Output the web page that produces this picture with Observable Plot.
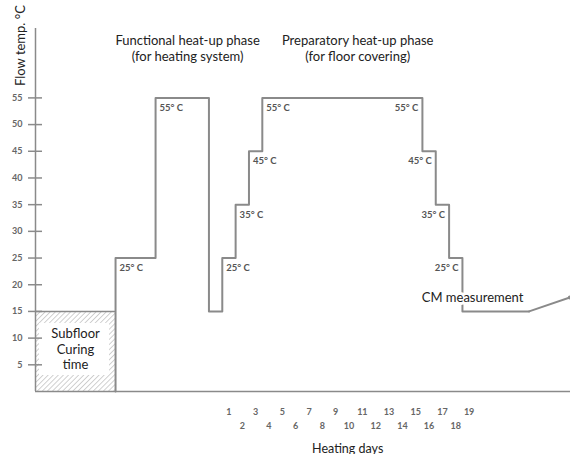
<!DOCTYPE html>
<html><head><meta charset="utf-8">
<script src="https://cdn.jsdelivr.net/npm/d3@7"></script>
<script src="https://cdn.jsdelivr.net/npm/@observablehq/plot@0.6"></script>
<style>body{margin:0;background:#fff}</style>
</head><body><div id="chart"></div>
<script>
// ---- data ----
const yTicks = [5, 10, 15, 20, 25, 30, 35, 40, 45, 50, 55];
const days = [1,2,3,4,5,6,7,8,9,10,11,12,13,14,15,16,17,18,19];
// temperature profile: day at which each level starts and the level (°C)
const stepStart = [-7.5, -4.5, -0.5, 0.5, 1.5, 2.5, 3.5, 15.5, 16.5, 17.5, 18.5, 23.5];
const stepTemp  = [25, 55, 15, 25, 35, 45, 55, 45, 35, 25, 15, 15];
const rampDays  = [23.5, 26.55];
const rampTemps = [15, 17.6];
const curingDays = [-13.5, -7.5];
const curingTemp = 15;
const leftLabelDays  = [-7.5, -4.5, 0.5, 1.5, 2.5, 3.5];
const leftLabelTemps = [25, 55, 25, 35, 45, 55];
const rightLabelDays  = [15.5, 16.5, 17.5, 18.5];
const rightLabelTemps = [55, 45, 35, 25];
const phases = [
  {day: -2.1, temp: 64.3, text: "Functional heat-up phase\n(for heating system)"},
  {day: 10.65, temp: 64.3, text: "Preparatory heat-up phase\n(for floor covering)"}
];

const xMin = -13.5, xMax = 26.6, yMax = 68;
const grey = "#8a8a8a";
const profile = [{d: stepStart[0], t: 0}, ...stepStart.map((d, i) => ({d, t: stepTemp[i]}))];
const ramp = rampDays.map((d, i) => ({d, t: rampTemps[i]}));
const fmt = t => `${t}° C`;

const chart = Plot.plot({
  width: 570, height: 454,
  marginTop: 28, marginBottom: 63, marginLeft: 35, marginRight: 0,
  x: {domain: [xMin, xMax], axis: null},
  y: {domain: [0, yMax], axis: null},
  style: {fontFamily: "Lato, sans-serif", background: "#fff"},
  marks: [
    // subfloor curing area
    Plot.rect([0], {x1: curingDays[0], x2: curingDays[1], y1: 0, y2: curingTemp, fill: "url(#hatch)"}),
    Plot.rect([0], {x1: curingDays[0], x2: curingDays[1], y1: 0, y2: curingTemp, fill: "white",
      insetLeft: 4, insetRight: 6, insetTop: 12, insetBottom: 16}),
    Plot.ruleY([curingTemp], {x1: curingDays[0], x2: curingDays[1], stroke: grey, strokeWidth: 1.5}),
    Plot.text(["Subfloor\nCuring\ntime"], {x: (curingDays[0] + curingDays[1]) / 2, y: 8.05,
      fontSize: 13, fill: "#222", lineHeight: 1.2}),
    // axes
    Plot.ruleY([0], {x1: xMin, x2: xMax, stroke: grey, strokeWidth: 1.5}),
    Plot.ruleX([xMin], {y1: 0, y2: yMax, stroke: grey, strokeWidth: 1.5}),
    Plot.ruleY(yTicks, {x1: xMin, x2: xMin, insetLeft: -7, insetRight: -7, stroke: grey, strokeWidth: 1.5}),
    Plot.text(yTicks, {x: xMin, y: d => d, text: d => String(d), textAnchor: "end", dx: -13,
      fontSize: 9, fontWeight: 700, fill: "#666"}),
    Plot.text(days.filter(d => d % 2), {x: d => d, y: 0, text: d => String(d), dy: 21,
      fontSize: 9, fontWeight: 700, fill: "#666"}),
    Plot.text(days.filter(d => d % 2 === 0), {x: d => d, y: 0, text: d => String(d), dy: 35,
      fontSize: 9, fontWeight: 700, fill: "#666"}),
    Plot.text(["Heating days"], {x: 9.9, y: 0, dy: 57, fontSize: 12.5, fill: "#222"}),
    Plot.text(["Flow temp. °C"], {x: xMin, y: 64.8, dx: -15, rotate: -90, fontSize: 13, fill: "#222"}),
    // temperature profile
    Plot.line(profile, {x: "d", y: "t", curve: "step-after", stroke: grey, strokeWidth: 2}),
    Plot.line(ramp, {x: "d", y: "t", stroke: grey, strokeWidth: 2}),
    Plot.dot([ramp[1]], {x: "d", y: "t", r: 2, fill: grey}),
    // level labels
    Plot.text(leftLabelDays, {x: d => d, y: (d, i) => leftLabelTemps[i], text: (d, i) => fmt(leftLabelTemps[i]),
      textAnchor: "start", dx: 4, dy: 10, fontSize: 9.5, fontWeight: 700, fill: "#555"}),
    Plot.text(rightLabelDays, {x: d => d, y: (d, i) => rightLabelTemps[i], text: (d, i) => fmt(rightLabelTemps[i]),
      textAnchor: "end", dx: -4, dy: 10, fontSize: 9.5, fontWeight: 700, fill: "#555"}),
    // phase titles
    Plot.text(phases, {x: "day", y: "temp", text: "text", fontSize: 13, fill: "#222", lineHeight: 1.2}),
    Plot.text(["CM measurement"], {x: 15.45, y: 17.6, textAnchor: "start", fontSize: 13, fill: "#222",
      stroke: "white", strokeWidth: 6})
  ]
});
d3.select(chart).insert("defs", ":first-child").html(
  `<pattern id="hatch" patternUnits="userSpaceOnUse" width="3.6" height="3.6" patternTransform="rotate(45)">
     <line x1="0" y1="0" x2="0" y2="3.6" stroke="#9a9a9a" stroke-width="0.9"/></pattern>`);
document.getElementById("chart").appendChild(chart);
</script></body></html>
